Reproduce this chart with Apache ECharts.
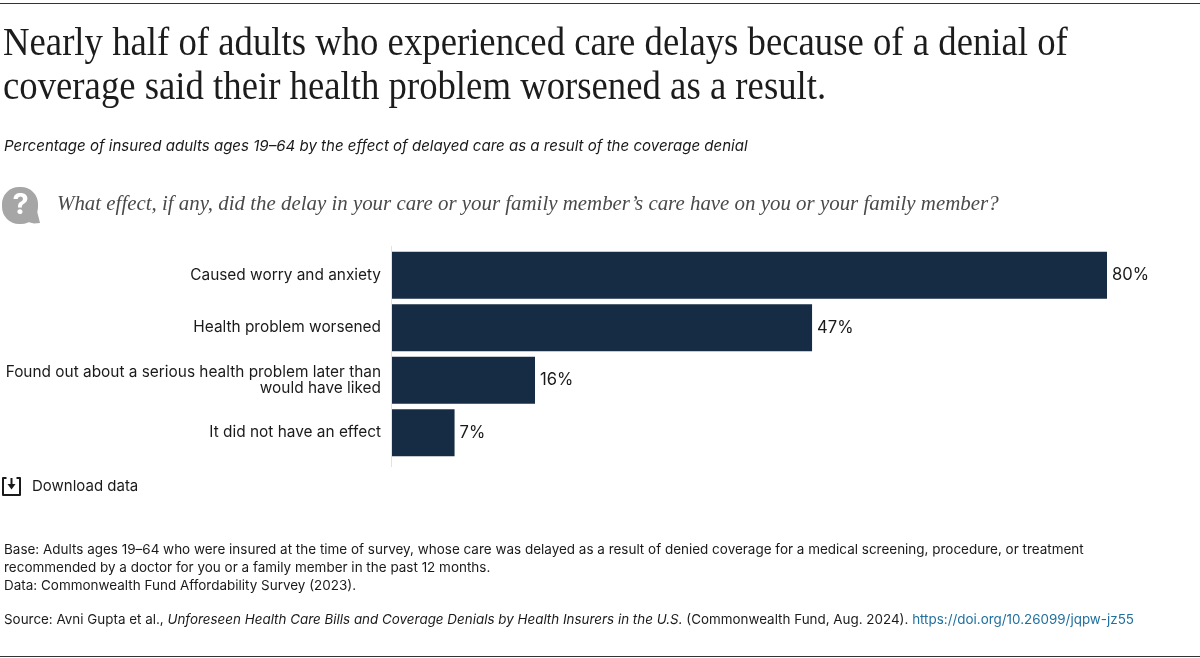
<!DOCTYPE html>
<html>
<head>
<meta charset="UTF-8">
<title>Coverage denial effects</title>
<style>
    html, body { margin: 0; padding: 0; background: #fff; }
    #chartArea { width: 1200px; height: 658px; }
</style>
</head>
<body>
<div id="chartArea"></div>
<script src="https://cdn.jsdelivr.net/npm/echarts@6/dist/echarts.min.js"></script>
<script>
var categories = [
    'Caused worry and anxiety',
    'Health problem worsened',
    'Found out about a serious health problem later than\nwould have liked',
    'It did not have an effect'
];
var values = [80, 47, 16, 7];

var titleLines = [
    'Nearly half of adults who experienced care delays because of a denial of',
    'coverage said their health problem worsened as a result.'
];
var subtitle = 'Percentage of insured adults ages 19\u201364 by the effect of delayed care as a result of the coverage denial';
var question = 'What effect, if any, did the delay in your care or your family member\u2019s care have on you or your family member?';
var notes = [
    'Base: Adults ages 19\u201364 who were insured at the time of survey, whose care was delayed as a result of denied coverage for a medical screening, procedure, or treatment',
    'recommended by a doctor for you or a family member in the past 12 months.',
    'Data: Commonwealth Fund Affordability Survey (2023).'
];

var SANS = 'Inter, "Noto Sans", sans-serif';
var SERIF = '"Liberation Serif", serif';
var INK = '#1a1a1a';
var NAVY = '#162c44';
var NOTE_SIZE = 13.47;
var SOURCE_SIZE = 13.42;

function label(x, y, text, size, extra) {
    var style = { x: x, y: y, text: text, fill: INK, fontFamily: SANS, fontSize: size, verticalAlign: 'middle' };
    for (var k in extra) style[k] = extra[k];
    return { type: 'text', silent: true, style: style };
}

// title is set a bit condensed so it keeps its height and its width
function titleLine(y, text) {
    return {
        type: 'text', silent: true, x: 3, y: y, scaleX: 0.93,
        style: { x: 0, y: 0, text: text, fill: '#1c1c1c', fontFamily: SERIF, fontSize: 39.5, verticalAlign: 'middle' }
    };
}

var graphics = [
    { type: 'line', shape: { x1: 0, y1: 3.5, x2: 1200, y2: 3.5 }, style: { stroke: '#333', lineWidth: 1 } },
    { type: 'line', shape: { x1: 0, y1: 656.5, x2: 1200, y2: 656.5 }, style: { stroke: '#333', lineWidth: 1 } },
    { type: 'line', shape: { x1: 391.5, y1: 246, x2: 391.5, y2: 467 }, style: { stroke: '#e2e2e2', lineWidth: 1 } },
    titleLine(44.5, titleLines[0]),
    titleLine(88.5, titleLines[1]),
    label(4, 146.5, subtitle, 15.05, { fontStyle: 'italic' }),
    // question bubble
    { type: 'rect', shape: { x: 2, y: 187, width: 36, height: 37, r: 17 }, style: { fill: '#a6a6a6' } },
    { type: 'polygon', shape: { points: [[30, 216], [37, 211], [40, 223], [34, 223.5], [28, 222]] }, style: { fill: '#a6a6a6' } },
    label(20.5, 205, '?', 29, { fill: '#fff', fontWeight: 'bold', align: 'center' }),
    label(57, 204.5, question, 20.9, { fontFamily: SERIF, fontStyle: 'italic', fill: '#4a4a4a' }),
    // download icon
    { type: 'polyline', shape: { points: [[6.5, 478], [3, 478], [3, 495], [20, 495], [20, 478], [16.5, 478]] }, style: { stroke: INK, fill: 'none', lineWidth: 2, lineJoin: 'round' } },
    { type: 'line', shape: { x1: 11.5, y1: 478, x2: 11.5, y2: 485 }, style: { stroke: INK, lineWidth: 2 } },
    { type: 'polygon', shape: { points: [[7.5, 484], [15.5, 484], [11.5, 489.5]] }, style: { fill: INK } },
    label(32, 486, 'Download data', 15),
    label(4, 550, notes[0], NOTE_SIZE),
    label(4, 567.5, notes[1], NOTE_SIZE),
    label(4, 585.5, notes[2], NOTE_SIZE),
    {
        type: 'text', silent: true,
        style: {
            x: 4, y: 619.5, verticalAlign: 'middle',
            text: '{n|Source: Avni Gupta et al., }{i|Unforeseen Health Care Bills and Coverage Denials by Health Insurers in the U.S.}{n| (Commonwealth Fund, Aug. 2024). }{l|https://doi.org/10.26099/jqpw-jz55}',
            rich: {
                n: { fontFamily: SANS, fontSize: SOURCE_SIZE, fill: INK },
                i: { fontFamily: SANS, fontSize: SOURCE_SIZE, fill: INK, fontStyle: 'italic' },
                l: { fontFamily: SANS, fontSize: SOURCE_SIZE, fill: '#1f6f9f' }
            }
        }
    }
];

var myChart = echarts.init(document.getElementById('chartArea'));
myChart.setOption({
    animation: false,
    backgroundColor: '#fff',
    grid: { left: 392, top: 249, width: 715, height: 210, containLabel: false },
    xAxis: { type: 'value', min: 0, max: 80, show: false },
    yAxis: {
        type: 'category',
        inverse: true,
        data: categories,
        axisLine: { show: false },
        axisTick: { show: false },
        axisLabel: {
            color: INK, fontFamily: SANS, fontSize: 15.4, lineHeight: 16,
            align: 'right', margin: 11, padding: [0, 0, 2, 0]
        }
    },
    series: [{
        type: 'bar',
        data: values,
        barWidth: 47,
        itemStyle: { color: NAVY },
        label: {
            show: true, position: 'right', distance: 5,
            color: INK, fontFamily: SANS, fontSize: 16.6,
            formatter: '{c}%'
        }
    }],
    graphic: graphics
});
</script>
</body>
</html>
